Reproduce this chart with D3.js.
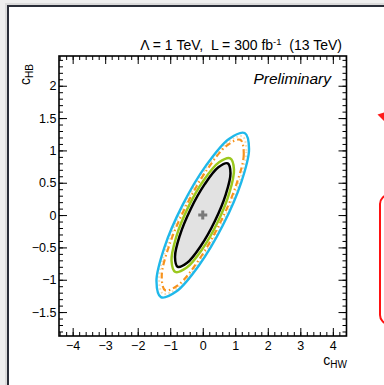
<!DOCTYPE html>
<html>
<head>
<meta charset="utf-8">
<script src="https://cdn.jsdelivr.net/npm/d3@7"></script>
<style>
  html, body { margin: 0; padding: 0; background: #efefef; }
  svg { display: block; }
  text { font-family: "Liberation Sans", Arial, Helvetica, sans-serif; fill: #000; }
</style>
</head>
<body>
<svg id="chart" width="384" height="385"></svg>
<script>
// Axis ranges and labelled ticks
const xDomain = [-4.42, 4.42];
const yDomain = [-1.87, 2.46];
const xMajorTicks = [-4, -3, -2, -1, 0, 1, 2, 3, 4];
const yMajorTicks = [-1.5, -1, -0.5, 0, 0.5, 1, 1.5, 2];

// Best-fit point
const bestFit = [[0, 0]];

// Likelihood contours, as (cHW, cHB) vertices
const blackContour = [
  [0.769, 0.800], [0.853, 0.647], [0.709, 0.321], [0.374, -0.091],
  [-0.061, -0.478], [-0.479, -0.738], [-0.769, -0.800], [-0.853, -0.647],
  [-0.709, -0.321], [-0.374, 0.091], [0.061, 0.478], [0.479, 0.738]
];
const greenContour = [
  [0.844, 0.878], [0.960, 0.704], [0.818, 0.343], [0.457, -0.111],
  [-0.026, -0.535], [-0.502, -0.816], [-0.844, -0.878], [-0.960, -0.704],
  [-0.818, -0.343], [-0.457, 0.111], [0.026, 0.535], [0.502, 0.816]
];
const orangeContour = [
  [1.154, 1.164], [1.261, 0.942], [1.030, 0.468], [0.524, -0.131],
  [-0.124, -0.696], [-0.738, -1.074], [-1.154, -1.164], [-1.261, -0.942],
  [-1.030, -0.468], [-0.524, 0.131], [0.124, 0.696], [0.738, 1.074]
];
const tanContour = [
  [1.221, 1.217], [1.342, 0.981], [1.104, 0.483], [0.571, -0.145],
  [-0.117, -0.734], [-0.772, -1.126], [-1.221, -1.217], [-1.342, -0.981],
  [-1.104, -0.483], [-0.571, 0.145], [0.117, 0.734], [0.772, 1.126]
];
const cyanContour = [
  [1.287, 1.269], [1.423, 1.020], [1.178, 0.498], [0.618, -0.158],
  [-0.109, -0.772], [-0.805, -1.178], [-1.287, -1.269], [-1.423, -1.020],
  [-1.178, -0.498], [-0.618, 0.158], [0.109, 0.772], [0.805, 1.178]
];

const svg = d3.select("#chart");
const W = 384, H = 385;
const plot = { left: 59, right: 346.5, top: 56, bottom: 336 };

// Slide backdrop: white page with dark edge
svg.append("rect").attr("x", 0).attr("y", 0).attr("width", W).attr("height", H).attr("fill", "#efefef");
svg.append("rect").attr("x", 5).attr("y", 3).attr("width", W).attr("height", H).attr("fill", "#c8c8c8").attr("opacity", 0.5);
svg.append("rect").attr("x", 8).attr("y", 6).attr("width", W).attr("height", H).attr("fill", "#ffffff");
svg.append("path").attr("d", `M8,${H} L8,6 L${W},6`).attr("fill", "none")
  .attr("stroke", "#2a2e38").attr("stroke-width", 2);

const x = d3.scaleLinear().domain(xDomain).range([plot.left, plot.right]);
const y = d3.scaleLinear().domain(yDomain).range([plot.bottom, plot.top]);

const xMinor = d3.range(-4.4, 4.41, 0.2).map(v => +v.toFixed(1));
const yMinor = d3.range(-1.8, 2.41, 0.1).map(v => +v.toFixed(1));
const fmt = d3.format("~g");

function styleAxis(g) {
  g.select(".domain").remove();
  g.selectAll(".tick line").attr("stroke", "#000").attr("stroke-width", 1);
}

// Bottom axis
svg.append("g").attr("transform", `translate(0,${plot.bottom})`)
  .call(d3.axisBottom(x).tickValues(xMinor).tickSize(-4).tickFormat("")).call(styleAxis);
svg.append("g").attr("transform", `translate(0,${plot.bottom})`)
  .call(d3.axisBottom(x).tickValues(xMajorTicks).tickSize(-8).tickPadding(5).tickFormat(fmt))
  .call(styleAxis)
  .call(g => g.selectAll("text").attr("font-size", 12.5));
// Top axis
svg.append("g").attr("transform", `translate(0,${plot.top})`)
  .call(d3.axisTop(x).tickValues(xMinor).tickSize(-4).tickFormat("")).call(styleAxis);
svg.append("g").attr("transform", `translate(0,${plot.top})`)
  .call(d3.axisTop(x).tickValues(xMajorTicks).tickSize(-8).tickFormat("")).call(styleAxis);
// Left axis
svg.append("g").attr("transform", `translate(${plot.left},0)`)
  .call(d3.axisLeft(y).tickValues(yMinor).tickSize(-4).tickFormat("")).call(styleAxis);
svg.append("g").attr("transform", `translate(${plot.left},0)`)
  .call(d3.axisLeft(y).tickValues(yMajorTicks).tickSize(-8).tickPadding(2.5).tickFormat(fmt))
  .call(styleAxis)
  .call(g => g.selectAll("text").attr("font-size", 12.5));
// Right axis
svg.append("g").attr("transform", `translate(${plot.right},0)`)
  .call(d3.axisRight(y).tickValues(yMinor).tickSize(-4).tickFormat("")).call(styleAxis);
svg.append("g").attr("transform", `translate(${plot.right},0)`)
  .call(d3.axisRight(y).tickValues(yMajorTicks).tickSize(-8).tickFormat("")).call(styleAxis);

// Contours
const contourLine = d3.line()
  .x(d => x(d[0])).y(d => y(d[1]))
  .curve(d3.curveCatmullRomClosed.alpha(0.5));

svg.append("path").datum(tanContour).attr("d", contourLine)
  .attr("fill", "none").attr("stroke", "#f3d9b3").attr("stroke-width", 2)
  .attr("stroke-dasharray", "1.5,2.5");
svg.append("path").datum(cyanContour).attr("d", contourLine)
  .attr("fill", "none").attr("stroke", "#1fb8ea").attr("stroke-width", 2.4);
svg.append("path").datum(orangeContour).attr("d", contourLine)
  .attr("fill", "none").attr("stroke", "#f7931e").attr("stroke-width", 2.2)
  .attr("stroke-dasharray", "6,3,1.5,3");
svg.append("path").datum(greenContour).attr("d", contourLine)
  .attr("fill", "none").attr("stroke", "#9bc81e").attr("stroke-width", 2.5);
svg.append("path").datum(blackContour).attr("d", contourLine)
  .attr("fill", "#e2e2e2").attr("stroke", "#000").attr("stroke-width", 2.5);

// Best-fit marker
svg.selectAll(".bestfit").data(bestFit).join("path")
  .attr("class", "bestfit")
  .attr("transform", d => `translate(${x(d[0])},${y(d[1])})`)
  .attr("d", d3.symbol(d3.symbolCross, 45))
  .attr("fill", "#7a7a7a");

// Frame
svg.append("rect")
  .attr("x", plot.left).attr("y", plot.top)
  .attr("width", plot.right - plot.left).attr("height", plot.bottom - plot.top)
  .attr("fill", "none").attr("stroke", "#000").attr("stroke-width", 1.6);

// Header
const title = svg.append("text")
  .attr("x", 342).attr("y", 50).attr("text-anchor", "end")
  .attr("font-size", 14).style("white-space", "pre");
title.append("tspan").text("\u039B = 1 TeV,  L = 300 fb");
title.append("tspan").attr("font-size", 9.5).attr("dy", -5).text("-1");
title.append("tspan").attr("dy", 5).text("  (13 TeV)");

svg.append("text")
  .attr("x", 331).attr("y", 84).attr("text-anchor", "end")
  .attr("font-size", 15.5).attr("font-style", "italic").text("Preliminary");

// Axis titles
const xt = svg.append("text").attr("x", 347).attr("y", 365).attr("text-anchor", "end").attr("font-size", 14);
xt.append("tspan").text("c");
xt.append("tspan").attr("font-size", 10).attr("dy", 3).text("HW");

const yt = svg.append("text").attr("transform", "translate(30,64) rotate(-90)")
  .attr("text-anchor", "end").attr("font-size", 14);
yt.append("tspan").text("c");
yt.append("tspan").attr("font-size", 10).attr("dy", 3).text("HB");

// Slide callout pieces at the right edge
svg.append("path").attr("d", "M377.5,114.5 L384,112.5 L384,121 Z").attr("fill", "#ff1a1a");
svg.append("rect").attr("x", 381).attr("y", 197).attr("width", 30).attr("height", 129)
  .attr("rx", 9).attr("fill", "#d8d8d8").attr("opacity", 0.6);
svg.append("rect").attr("x", 380).attr("y", 195).attr("width", 30).attr("height", 129)
  .attr("rx", 9).attr("fill", "#fff").attr("stroke", "#ff1111").attr("stroke-width", 2);
</script>
</body>
</html>
